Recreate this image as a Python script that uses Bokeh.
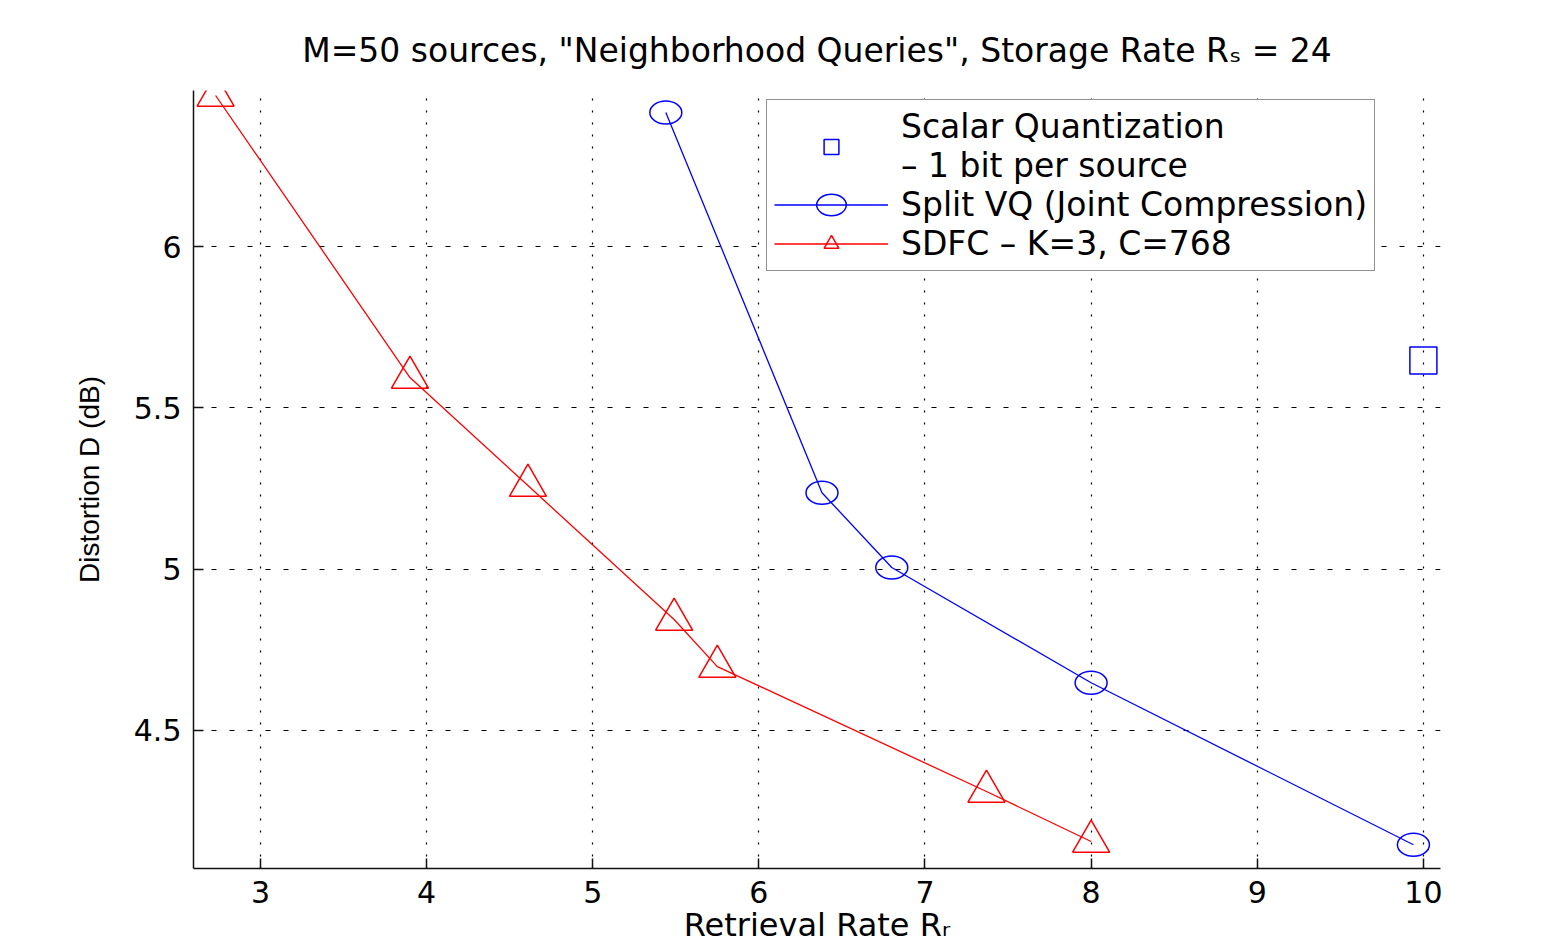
from bokeh.plotting import figure
from bokeh.models import Range1d, FixedTicker, Legend, LegendItem
from bokeh.embed import file_html
from bokeh.resources import INLINE

# ---- data ----
sdfc_x = [2.73, 3.90, 4.61, 5.49, 5.75, 7.37, 8.00]
sdfc_y = [6.468, 5.594, 5.259, 4.844, 4.698, 4.311, 4.156]

vq_x = [5.44, 6.38, 6.80, 8.00, 9.94]
vq_y = [6.415, 5.237, 5.005, 4.648, 4.146]

sq_x = [10.0]
sq_y = [5.647]

x_ticks = [3, 4, 5, 6, 7, 8, 9, 10]
y_ticks = [4.5, 5, 5.5, 6]

title_text = 'M=50 sources, "Neighborhood Queries", Storage Rate R\u209b = 24'
xlabel = "Retrieval Rate R\u1d63"
ylabel = "Distortion D (dB)"
legend_labels = ["Scalar Quantization\n\u2013 1 bit per source",
                 "Split VQ (Joint Compression)",
                 "SDFC \u2013 K=3, C=768"]

FONT = "DejaVu Sans"
W, H = 1557, 946

p = figure(width=W, height=H, output_backend="svg", toolbar_location=None,
           x_range=Range1d(2.597, 10.103), y_range=Range1d(4.0723, 6.4835),
           min_border_left=193, min_border_right=117, min_border_top=90,
           min_border_bottom=78)
p.outline_line_color = None
p.background_fill_color = "white"
p.border_fill_color = "white"

p.title.text = title_text
p.title.align = "center"
p.title.text_font = FONT
p.title.text_font_size = "33px"
p.title.text_font_style = "normal"
p.title.text_color = "black"
p.title.standoff = 42

for ax in (p.xaxis[0], p.yaxis[0]):
    ax.axis_line_color = "#111111"
    ax.axis_line_width = 1.5
    ax.major_tick_in = 10
    ax.major_tick_out = 0
    ax.major_tick_line_color = "#111111"
    ax.major_tick_line_width = 1.5
    ax.minor_tick_line_color = None
    ax.major_label_text_font = FONT
    ax.major_label_text_font_size = "30px"
    ax.major_label_text_color = "black"
    ax.major_label_standoff = 12
    ax.axis_label_text_font_style = "normal"
    ax.axis_label_text_color = "black"
p.xaxis[0].ticker = FixedTicker(ticks=x_ticks)
p.yaxis[0].ticker = FixedTicker(ticks=y_ticks)

p.xaxis[0].axis_label = xlabel
p.xaxis[0].axis_label_text_font = FONT
p.xaxis[0].axis_label_text_font_size = "32px"
p.xaxis[0].axis_label_standoff = 0

p.yaxis[0].axis_label = ylabel
p.yaxis[0].axis_label_text_font = "Liberation Sans"
p.yaxis[0].axis_label_text_font_size = "28px"
p.yaxis[0].axis_label_standoff = 26

p.xgrid.ticker = FixedTicker(ticks=x_ticks)
p.ygrid.ticker = FixedTicker(ticks=y_ticks)
p.xgrid.grid_line_color = "black"
p.xgrid.grid_line_dash = "2 10"
p.xgrid.grid_line_width = 1.2
p.ygrid.grid_line_color = "black"
p.ygrid.grid_line_dash = "5 13"
p.ygrid.grid_line_width = 1.2

# ---- series ----
r_vq_line = p.line(vq_x, vq_y, line_color="#0000ff", line_width=1.3)
r_vq_mk = p.ellipse(vq_x, vq_y, width=32, height=23, width_units="screen",
                    height_units="screen", fill_color=None, line_color="#0000ff",
                    line_width=1.5)
r_sd_line = p.line(sdfc_x, sdfc_y, line_color="#ff0000", line_width=1.3)
r_sd_mk = p.scatter(sdfc_x, sdfc_y, marker="triangle", size=37, fill_color=None,
                    line_color="#ff0000", line_width=1.5)
r_sq = p.scatter(sq_x, sq_y, marker="square", size=27, fill_color=None,
                 line_color="#0000ff", line_width=1.5)

legend = Legend(items=[
    LegendItem(label=legend_labels[0], renderers=[r_sq]),
    LegendItem(label=legend_labels[1], renderers=[r_vq_line, r_vq_mk]),
    LegendItem(label=legend_labels[2], renderers=[r_sd_line, r_sd_mk]),
], location=(573, 597))
legend.label_text_font = FONT
legend.label_text_font_size = "33px"
legend.label_text_color = "black"
legend.label_text_line_height = 0.8
legend.glyph_width = 114
legend.glyph_height = 37
legend.label_standoff = 13
legend.padding = 7
legend.spacing = 0
legend.margin = 0
legend.border_line_color = "#222222"
legend.border_line_width = 1.5
legend.background_fill_color = "white"
legend.background_fill_alpha = 1.0
p.add_layout(legend, "center")

open("out.html", "w").write(file_html(p, INLINE))
